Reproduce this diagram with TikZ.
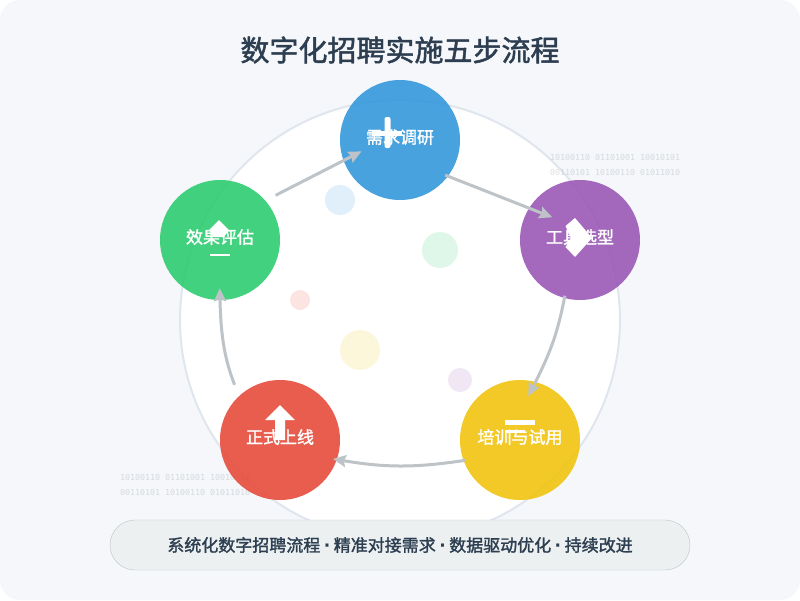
\documentclass[tikz,border=0pt]{standalone}
\usepackage{fontspec}
\setmainfont[BoldFont={Noto Sans CJK SC},BoldFeatures={FakeBold=1.6}]{Noto Sans CJK SC}
\newfontfamily\binfont{DejaVu Sans Mono}
\newfontfamily\dotfont{DejaVu Sans}
\newcommand\sepdot{\hspace{3.5pt}{\dotfont ·}\hspace{3.5pt}}
\usetikzlibrary{positioning,arrows.meta}
\definecolor{pagebg}{HTML}{F5F7FA}
\definecolor{ringline}{HTML}{E0E6ED}
\definecolor{inkdark}{HTML}{2C3E50}
\definecolor{flowgray}{HTML}{BDC3C7}
\definecolor{bannerbg}{HTML}{ECF0F1}
\definecolor{needblue}{HTML}{3498DB}
\definecolor{toolpurple}{HTML}{9B59B6}
\definecolor{trialyellow}{HTML}{F1C40F}
\definecolor{livered}{HTML}{E74C3C}
\definecolor{evalgreen}{HTML}{2ECC71}
\tikzset{node distance=100pt, on grid,
  stepnode/.style={circle, draw=none, inner sep=0pt, minimum size=120pt, fill opacity=.9, text opacity=1,
    text=white, font=\fontsize{17}{18}\selectfont\bfseries, text height=12pt, text depth=5pt},
  softdot/.style={circle, draw=none, inner sep=0pt, fill opacity=.15},
  bintext/.style={anchor=west, inner sep=0pt, text=flowgray, text opacity=.55, font=\fontsize{8.3}{10}\binfont},
  flow/.style={draw=flowgray, line width=3pt, -{Stealth[length=13pt,width=12pt,inset=2pt]}}}
\begin{document}
\begin{tikzpicture}[x=1pt,y=-1pt]

  \useasboundingbox (0,0) rectangle (800,600);
  \fill[white] (0,0) rectangle (800,600);
  \fill[pagebg, rounded corners=20pt] (0,0) rectangle (800,600);

  \node (ring) [circle, draw=ringline, line width=2pt, fill=white, inner sep=0pt, minimum size=440pt] at (400,320) {};

  \node (title) [font=\fontsize{29}{32}\selectfont\bfseries, text=inkdark] at (400,50) {数字化招聘实施五步流程};

  \node (binA) [bintext] at (550,157) {10100110 01101001 10010101};
  \node (binB) [bintext] at (550,172) {00110101 10100110 01011010};
  \node (binC) [bintext] at (120,477) {10100110 01101001 10010101};
  \node (binD) [bintext] at (120,492) {00110101 10100110 01011010};

  \node (dotA) [softdot, fill=needblue, minimum size=30pt] at (340,200) {};
  \node (dotB) [softdot, fill=evalgreen, minimum size=36pt] at (440,250) {};
  \node (dotC) [softdot, fill=livered, minimum size=20pt] at (300,300) {};
  \node (dotD) [softdot, fill=trialyellow, minimum size=40pt] at (360,350) {};
  \node (dotE) [softdot, fill=toolpurple, minimum size=24pt] at (460,380) {};

  \node (need) [stepnode, fill=needblue] at (400,140) {需求调研};
  \node (tool) [stepnode, fill=toolpurple, below right=100pt and 180pt of need] {工具选型};
  \node (trial) [stepnode, fill=trialyellow, below left=200pt and 60pt of tool] {培训与试用};
  \node (live) [stepnode, fill=livered, left=240pt of trial] {正式上线};
  \node (eval) [stepnode, fill=evalgreen, above left=200pt and 60pt of live] {效果评估};

  % icons
  \fill[white, rounded corners=2pt] (384.5,117) rectangle (390.5,148);
  \fill[white] (372,130.5) rectangle (402,135.5);
  \fill[white] (575,218) -- (592,238) -- (575,257) -- (565.5,247) -- (571,238) -- (565.5,226) -- cycle;
  \fill[white] (505,420) rectangle (535,425);
  \fill[white] (505,430) rectangle (525,433);
  \fill[white] (280,405) -- (295,420) -- (285,420) -- (285,440) -- (275,440) -- (275,420) -- (265,420) -- cycle;
  \fill[white] (219,220) -- (229,230) -- (224,237) -- (214,237) -- (209,230) -- cycle;
  \fill[white] (210,254) rectangle (230,256);

  \draw[flow, shorten <=11.4pt, shorten >=-20.3pt] (eval.41.7) to (need.200.5);
  \draw[flow, shorten <=-3.1pt, shorten >=-25pt] (need.323) to (tool.148.5);
  \draw[flow, bend left=8, shorten <=-2.5pt, shorten >=-16pt] (tool.255) to (trial.75);
  \draw[flow, bend left=9, shorten <=-1.5pt, shorten >=-4pt] (trial.200) to (live.341.7);
  \draw[flow, bend left=10, shorten <=12pt, shorten >=-12pt] (live.133.5) to (eval.270);

  \node (banner) [draw=flowgray, fill=bannerbg, rounded corners=25pt, inner sep=0pt, minimum width=580pt, minimum height=50pt,
    text=inkdark, font=\fontsize{17}{18}\selectfont\bfseries] at (400,545) {系统化数字招聘流程\sepdot 精准对接需求\sepdot 数据驱动优化\sepdot 持续改进};

\end{tikzpicture}
\end{document}
